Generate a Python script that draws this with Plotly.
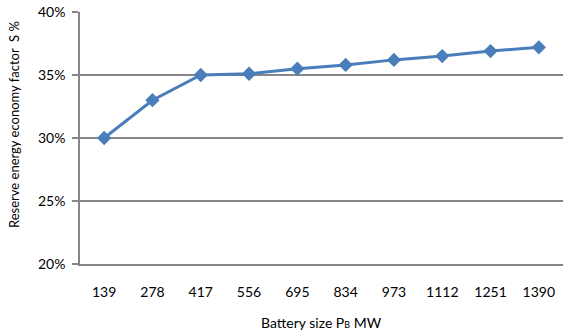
import plotly.graph_objects as go

battery_size = ["139", "278", "417", "556", "695", "834", "973", "1112", "1251", "1390"]
economy_factor = [0.300, 0.330, 0.350, 0.351, 0.355, 0.358, 0.362, 0.365, 0.369, 0.372]

fig = go.Figure()
fig.add_trace(go.Scatter(
    x=battery_size,
    y=economy_factor,
    mode="lines+markers",
    line=dict(color="#4A7EBB", width=3),
    marker=dict(symbol="diamond", size=11, color="#4A7EBB"),
    showlegend=False,
))

font_family = "Lato, 'Open Sans', sans-serif"

fig.update_layout(
    width=563, height=335,
    margin=dict(l=80, r=0, t=12, b=71),
    paper_bgcolor="white",
    plot_bgcolor="white",
    font=dict(family=font_family, size=14, color="#000000"),
)
fig.update_xaxes(
    type="category",
    range=[-0.5, 9.5],
    showline=True, linecolor="#868686", linewidth=1.5,
    showgrid=False,
    ticks="", ticklabelstandoff=14,
    tickfont=dict(size=14),
)
fig.update_yaxes(
    range=[0.20, 0.40],
    tickvals=[0.20, 0.25, 0.30, 0.35, 0.40],
    tickformat=".0%",
    showline=True, linecolor="#868686", linewidth=1.5,
    showgrid=True, gridcolor="#868686", gridwidth=1.5,
    ticks="outside", ticklen=6, tickcolor="#868686", tickwidth=1.5,
    ticklabelstandoff=4,
    tickfont=dict(size=14),
    zeroline=False,
)

# Axis titles
fig.add_annotation(
    text="Battery size P<span style='font-size:9px'>B</span> MW",
    xref="paper", yref="paper", x=0.5, y=0,
    xanchor="center", yanchor="middle", yshift=-58,
    showarrow=False, font=dict(size=14),
)
fig.add_annotation(
    text="Reserve energy economy factor  S %",
    xref="paper", yref="paper", x=0, y=0.5,
    xanchor="center", yanchor="middle", xshift=-66, yshift=13,
    textangle=-90, showarrow=False, font=dict(size=13),
)

fig.write_html("out.html")
